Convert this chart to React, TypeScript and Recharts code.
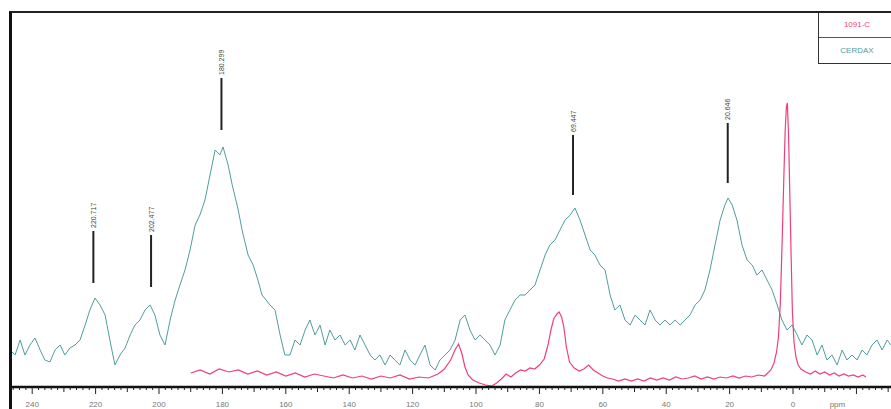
import React from 'react';
import { ComposedChart, Line, Scatter, XAxis, YAxis, Legend } from 'recharts';

// CERDAX trace: chemical shift (ppm) and intensity
const cerdaxPpm = [
  247.0, 245.4, 243.8, 242.3, 240.7, 239.1, 237.5, 236.0, 234.4, 232.8, 231.2, 229.7, 228.1, 226.5,
  224.9, 223.3, 221.8, 220.2, 218.6, 217.0, 215.5, 213.9, 212.3, 210.7, 209.1, 207.6, 206.0, 204.4,
  202.8, 201.3, 199.7, 198.1, 196.5, 194.9, 193.4, 191.8, 190.2, 188.6, 187.1, 185.5, 183.9, 182.3,
  180.8, 179.8, 178.2, 176.9, 175.0, 173.8, 171.9, 170.3, 168.8, 167.5, 166.2, 165.0, 163.4, 161.8,
  160.3, 158.7, 157.1, 155.5, 153.9, 152.4, 150.8, 149.2, 147.6, 146.1, 144.5, 142.9, 141.3, 139.7,
  138.2, 136.6, 135.0, 133.4, 131.9, 130.3, 128.7, 127.1, 125.6, 124.0, 122.4, 120.8, 119.2, 117.7,
  116.1, 114.5, 112.9, 111.4, 109.8, 108.2, 106.6, 105.0, 103.5, 101.9, 100.3, 98.7, 97.2, 95.6,
  94.0, 92.4, 90.9, 89.3, 87.7, 86.1, 84.5, 83.0, 81.4, 79.8, 78.2, 76.7, 75.1, 73.5, 71.9, 70.3,
  68.8, 67.2, 65.6, 64.0, 62.5, 60.9, 59.3, 57.7, 56.2, 54.6, 53.0, 51.4, 49.8, 48.3, 46.7, 45.1,
  43.5, 42.0, 40.4, 38.8, 37.2, 35.6, 34.1, 32.5, 30.9, 29.3, 27.8, 26.2, 24.6, 23.0, 21.5, 20.5,
  19.2, 17.7, 16.1, 14.5, 12.9, 11.4, 9.8, 8.2, 6.6, 5.0, 3.5, 1.9, 0.3, -1.3, -2.8, -4.4, -6.0,
  -7.6, -9.1, -10.7, -12.3, -13.9, -15.5, -17.0, -18.6, -20.2, -21.8, -23.3, -24.9, -26.5, -28.1,
  -29.7, -30.9,
];
const cerdaxInt = [
  37, 32, 47, 32, 42, 49, 37, 27, 25, 37, 42, 32, 39, 42,
  47, 62, 77, 89, 82, 72, 47, 22, 32, 39, 52, 62, 67, 77,
  82, 72, 52, 42, 67, 87, 102, 117, 137, 162, 172, 187, 212, 237,
  232, 240, 222, 202, 177, 157, 132, 122, 107, 92, 87, 82, 77, 52,
  32, 32, 47, 42, 57, 67, 52, 62, 42, 57, 47, 52, 42, 47,
  37, 52, 42, 32, 27, 32, 22, 32, 27, 22, 37, 27, 22, 32,
  42, 22, 17, 27, 32, 37, 47, 67, 72, 57, 47, 52, 47, 42,
  32, 42, 67, 77, 87, 92, 92, 97, 102, 117, 132, 142, 147, 157, 167, 172,
  179, 167, 152, 137, 132, 122, 117, 92, 77, 82, 67, 62, 72, 67, 62, 77,
  67, 62, 67, 62, 67, 62, 67, 72, 82, 87, 97, 117, 142, 167, 182, 189,
  182, 167, 142, 127, 122, 112, 117, 107, 97, 82, 67, 57, 62, 52, 42, 52, 47,
  32, 42, 27, 32, 22, 37, 27, 32, 27, 37, 32, 42, 47, 37,
  47, 42,
];

// 1091-C trace
const sampleCPpm = [
  190, 187, 184, 181, 178, 175, 172, 169, 166, 163, 160, 157, 154, 151, 148, 145, 142, 139, 136,
  133, 130, 127, 124, 121, 118, 115, 112, 110, 108, 106.5, 105.5, 104.5, 103.5, 102.5, 101, 99, 97,
  95, 93.5, 92, 90.5, 89, 87.5, 86, 84.5, 83, 81.5, 80, 78.5, 77.3, 76.3, 75.5, 74.5, 73.8, 73,
  72.3, 71.5, 70.5, 69, 67.5, 66, 64.5, 63, 61.5, 60, 58.5, 57, 55, 53, 51, 49, 47, 45, 43, 41,
  39, 37, 35, 33, 31, 29, 27, 25, 23, 21, 19, 17, 15, 13, 11, 9, 8, 7, 6, 5.2, 4.6, 4, 3.4, 2.9,
  2.5, 2.1, 1.8, 1.4, 1, 0.6, 0.2, -0.3, -0.9, -1.6, -2.5, -4, -5.5, -7, -8.5, -10, -11.5, -13,
  -14.5, -16, -17.5, -19, -20.5, -22, -23,
];
const sampleCInt = [
  14, 17, 13, 18, 15, 17, 13, 16, 12, 15, 11, 14, 10, 13, 11, 9, 12, 9, 11,
  8, 11, 9, 12, 8, 10, 9, 13, 18, 27, 38, 43, 34, 20, 12, 7, 4, 2,
  1, 4, 8, 13, 10, 14, 17, 16, 19, 18, 22, 28, 42, 58, 68, 73, 75, 70,
  60, 40, 25, 19, 16, 18, 22, 17, 14, 11, 9, 8, 6, 8, 6, 8, 6, 9, 7, 9,
  7, 10, 8, 9, 11, 8, 10, 8, 10, 9, 11, 9, 11, 10, 12, 11, 14, 17, 24, 35, 50, 85, 150, 210,
  255, 280, 284, 250, 190, 130, 75, 45, 30, 22, 18, 15, 13, 16, 13, 15, 12, 14,
  11, 13, 11, 12, 10, 12, 10,
];

// picked peaks: shift, label text, marker base height
const peakPpm = [220.7, 202.5, 180.3, 69.4, 20.6];
const peakLabels = ['220.717', '202.477', '180.299', '69.447', '20.646'];
const peakMarkBase = [104, 100, 257, 192, 204];

const axisTicks: number[] = [];
for (let t = 246; t >= -30; t -= 2) axisTicks.push(t);

const cerdaxData = cerdaxPpm.map((ppm, i) => ({ ppm, v: cerdaxInt[i] }));
const sampleCData = sampleCPpm.map((ppm, i) => ({ ppm, v: sampleCInt[i] }));
const peakData = peakPpm.map((ppm, i) => ({ ppm, v: peakMarkBase[i], label: peakLabels[i] }));

const PINK = '#ef3f7b';
const TEAL = '#4f9d9f';

const PpmTick = (props: any) => {
  const { x, y, payload } = props;
  const val = payload.value as number;
  const len = val % 20 === 0 ? 7 : val % 10 === 0 ? 5 : 3;
  const showNum = val % 20 === 0 && val >= 0;
  return (
    <g>
      <line x1={x} y1={y} x2={x} y2={y + len} stroke="#222" strokeWidth={1} />
      {showNum && (
        <text x={x} y={y + 20} textAnchor="middle" fontSize={8} fill="#777" fontFamily="Liberation Sans, Arial">
          {val}
        </text>
      )}
      {val === -14 && (
        <text x={x} y={y + 20} textAnchor="middle" fontSize={8} fill="#777" fontFamily="Liberation Sans, Arial">
          ppm
        </text>
      )}
    </g>
  );
};

const PeakMarker = (props: any) => {
  const { cx, cy, payload } = props;
  const len = payload.ppm < 100 ? 60 : 52;
  return (
    <g>
      <line x1={cx} y1={cy} x2={cx} y2={cy - len} stroke="#222" strokeWidth={2} />
      <text
        x={cx + 2.5}
        y={cy - len - 3}
        transform={`rotate(-90 ${cx + 2.5} ${cy - len - 3})`}
        fontSize={7}
        fill="#444"
        fontFamily="Liberation Sans, Arial"
      >
        {payload.label}
      </text>
    </g>
  );
};

const LegendBox = () => (
  <div
    style={{
      width: 76,
      borderLeft: '1.5px solid #333',
      borderBottom: '1.5px solid #333',
      fontFamily: 'Liberation Sans, Arial',
      fontSize: 8,
      textAlign: 'center',
    }}
  >
    <div style={{ height: 25, lineHeight: '25px', color: PINK, borderBottom: '1px solid #555' }}>1091-C</div>
    <div style={{ height: 25, lineHeight: '25px', color: TEAL }}>CERDAX</div>
  </div>
);

export default function App() {
  return (
    <div style={{ position: 'absolute', left: 0, top: 0, width: 891, height: 409, background: '#fff' }}>
      <ComposedChart width={891} height={409} margin={{ top: 12, right: 0, left: 10, bottom: 0 }}>
        <XAxis
          dataKey="ppm"
          type="number"
          domain={[-30.9, 247]}
          reversed
          allowDataOverflow
          ticks={axisTicks}
          interval={0}
          height={22}
          tickSize={0}
          tickMargin={0}
          tick={<PpmTick />}
          axisLine={{ stroke: '#111', strokeWidth: 2.5 }}
        />
        <YAxis type="number" domain={[0, 375]} hide allowDataOverflow />
        <Legend
          layout="vertical"
          align="center"
          verticalAlign="middle"
          content={<LegendBox />}
          wrapperStyle={{ top: 12, left: 818, width: 80 }}
        />
        <Line
          data={cerdaxData}
          dataKey="v"
          stroke={TEAL}
          strokeWidth={1}
          dot={false}
          type="linear"
          isAnimationActive={false}
          legendType="none"
        />
        <Line
          data={sampleCData}
          dataKey="v"
          stroke={PINK}
          strokeWidth={1.2}
          dot={false}
          type="linear"
          isAnimationActive={false}
          legendType="none"
        />
        <Scatter data={peakData} dataKey="v" shape={<PeakMarker />} isAnimationActive={false} legendType="none" />
      </ComposedChart>
      <div
        style={{
          position: 'absolute',
          left: 9,
          top: 11,
          width: 882,
          height: 398,
          borderLeft: '3px solid #111',
          borderTop: '2px solid #222',
          boxSizing: 'border-box',
          pointerEvents: 'none',
        }}
      />
    </div>
  );
}
